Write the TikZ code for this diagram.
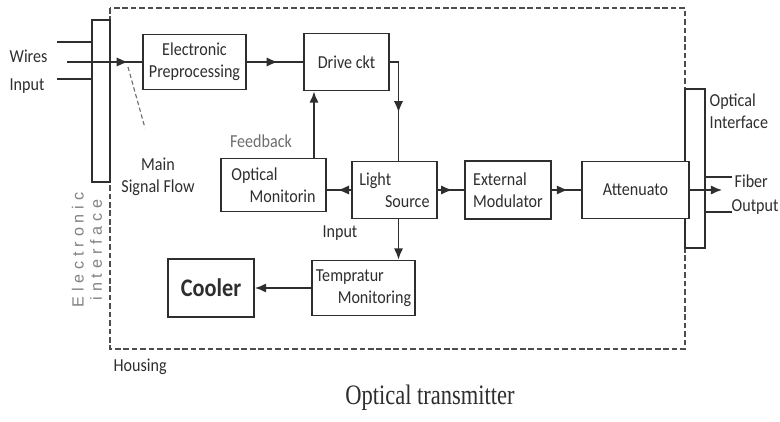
\documentclass[tikz,border=0pt]{standalone}
\usepackage{fontspec}
\setmainfont{Carlito}[FakeStretch=0.88]
\newfontfamily\barfont{Liberation Sans}[LetterSpace=30.0]
\newfontfamily\titlefont{Liberation Serif}
\usepackage{graphicx}
\usepackage{xcolor}
\usetikzlibrary{arrows.meta, calc, positioning, decorations.markings}
\definecolor{ink}{HTML}{2E2E2E}

\begin{document}
\begin{tikzpicture}[
    x=0.025cm, y=-0.025cm,
    >={Latex[length=2.8mm, width=2.3mm]},
    every node/.style={font=\fontsize{13}{15.5}\selectfont, text=ink},
    box/.style ={draw=ink, line width=1.4pt, fill=white, inner sep=2pt},
    bar/.style ={draw=ink, line width=1.1pt, fill=white, inner sep=0pt},
    lbl/.style ={inner sep=1pt},
    wire/.style={draw=ink, line width=1pt},
    flow/.style={->, wire},
    midflow/.style={wire, postaction={decorate},
                    decoration={markings, mark=at position .55 with {\arrow{>}}}},
    housing/.style={draw=ink!85, line width=1.3pt, dash pattern=on 4pt off 2pt},
    pointer/.style={draw=ink!70, line width=.8pt, dash pattern=on 3pt off 2pt},
]
\path[use as bounding box, fill=white] (0,0) rectangle (780,421);
% housing of the transmitter
\draw[housing] (110,8) rectangle (685,349);

\node[bar, minimum width=4.5mm, minimum height=40.5mm]  (eint) at (101,101) {};
\node[bar, minimum width=5mm,   minimum height=39.75mm] (oint) at (695,168.5) {};

\node[box, minimum width=25.75mm, minimum height=13.75mm, align=center] (prep) at (194.5,62)
      {Electronic\\Preprocessing};
\node[box, minimum width=21.25mm, minimum height=14.25mm, right=14mm of prep] (drive) {Drive ckt};
\node[box, minimum width=21.25mm, minimum height=14.25mm, align=left] (light) at (394.5,190)
      {Light\\\hspace*{1.4em}Source};
\node[box, minimum width=26.25mm, minimum height=13.25mm, align=left,
      left=6mm of light, yshift=1.25mm] (omon) {Optical\\\hspace*{1em}Monitorin};
\node[box, minimum width=21.5mm, minimum height=14.5mm, align=left,
      right=6.5mm of light] (extmod) {External\\Modulator};
\node[box, minimum width=26.75mm, minimum height=14.25mm,
      right=7.25mm of extmod] (atten) {Attenuato};
\node[box, minimum width=25.75mm, minimum height=13.75mm, align=left] (temp) at (363.5,288)
      {Tempratur\\\hspace*{1.2em}Monitoring};
\node[box, minimum width=21.5mm, minimum height=14.5mm, left=14mm of temp,
      font=\bfseries\fontsize{18}{20}\selectfont] (cooler) {Cooler};

\coordinate (wtop)   at (57,42);
\coordinate (wmid)   at (67,62);
\coordinate (wbot)   at (57,79);
\coordinate (sigtip) at (128,67);
\coordinate (msf)    at (145,128);
\coordinate (fb)     at ($(omon.north east)+(-13,0)$);
\coordinate (lup)    at ($(light.north)+(4,0)$);
\coordinate (ldn)    at ($(light.south)+(4,0)$);
\coordinate (fibout) at (722,190);
\coordinate (ftop)   at (732,177);
\coordinate (fbot)   at (732,212);

\draw[wire] (wtop) -- (wtop -| eint.west);
\draw[wire] (wbot) -- (wbot -| eint.west);
\draw[wire] (wmid) -- (wmid -| eint.east);
\draw[midflow] (wmid -| eint.east) -- (prep.west);
\draw[pointer] (sigtip) -- (msf);
\draw[midflow] (prep.east) -- (drive.west);
\draw[midflow] (drive.east) -| (lup);
\draw[flow] (fb) -- (fb |- drive.south);
\draw[midflow] (light.west) -- (light.west -| omon.east);
\draw[midflow] (light.east) -- (extmod.west);
\draw[midflow] (extmod.east) -- (atten.west);
\draw[flow] (atten.east) -- (fibout);
\draw[wire] (oint.east |- ftop) -- (ftop);
\draw[wire] (oint.east |- fbot) -- (fbot);
\draw[flow] (ldn) -- (ldn |- temp.north);
\draw[flow] (temp.west) -- (cooler.east);

\node[lbl, anchor=west] (wires)  at (8,56)  {Wires};
\node[lbl, anchor=west] (winput) at (8,86)  {Input};
\node[lbl, align=center] (msflbl) at (158,177) {Main\\Signal Flow};
\node[lbl, text=ink!70] (fblbl)  at (261,141) {Feedback};
\node[lbl] (inlbl) at (340,233) {Input};
\node[lbl, anchor=west] (hslbl) at (112,367) {Housing};
\node[lbl, anchor=north west, align=left] (oilbl) at (708,92) {Optical\\Interface};
\node[lbl, anchor=west] (fiblbl) at (733,181) {Fiber};
\node[lbl, anchor=west] (outlbl) at (730,207) {Output};
\node[lbl, rotate=90, align=center, text=ink!60,
      font=\barfont\fontsize{11.5}{13}\selectfont] (eilbl) at (87,250) {Electronic\\interface};
\node[lbl] (title) at (430,398)
      {\scalebox{.8}[1]{\titlefont\fontsize{20}{24}\selectfont Optical transmitter}};
\end{tikzpicture}
\end{document}
